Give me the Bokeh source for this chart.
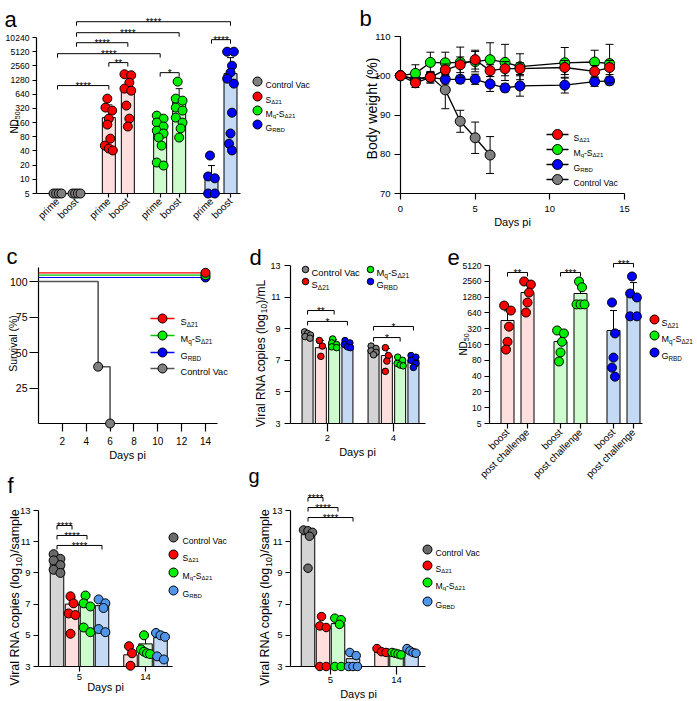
import math
from bokeh.plotting import figure
from bokeh.models import Range1d, FixedTicker, Label, CustomJSTickFormatter
from bokeh.layouts import row, column
from bokeh.core.properties import value
from bokeh.embed import file_html
from bokeh.resources import INLINE

# ============================ DATA ============================
# (a) neutralising titres after prime / boost (ND50)
a_groups = ["Control Vac", "SΔ21", "Mq-SΔ21", "GRBD"]
a_phases = ["prime", "boost"]
a_yticks = [5, 10, 20, 40, 80, 160, 320, 640, 1280, 2560, 5120, 10240]
a_bar = [5, 5, 204, 880, 120, 446, 12, 1750]
a_err = [5, 5, 380, 1500, 190, 840, 19.6, 3830]
a_ctrl_prime = [5, 5, 5, 5]
a_ctrl_boost = [5, 5, 5, 5]
a_s_prime = [516, 333, 288, 194, 145, 73, 52, 45, 41]
a_s_boost = [1700, 1620, 1130, 840, 760, 368, 194, 132]
a_m_prime = [225, 194, 160, 132, 108, 94, 77, 52, 22.7, 19.6]
a_m_boost = [1185, 516, 468, 333, 288, 204, 160, 120, 77]
a_g_prime = [32, 11.5, 10.5, 5, 5]
a_g_boost = [5120, 5120, 2580, 1840, 1370, 1075, 260, 94, 57, 41]
a_sig = [(0, 2, 977, "****"), (2, 3, 3000, "**"), (4, 5, 1836, "*"), (6, 7, 9213, "****"),
         (0, 4, 4645, "****"), (1, 3, 7937, "****"), (1, 5, 12950, "****"), (1, 7, 22150, "****")]

# (b) body weight (%)
b_days = [0, 1, 2, 3, 4, 5, 6, 7, 8, 11, 13, 14]
b_S = [100, 98.2, 99.6, 101.5, 102.8, 104.1, 101.3, 101.8, 101.8, 102.1, 101.1, 102.1]
b_S_sd = [0, 1.2, 1.2, 1.5, 2.0, 2.4, 1.5, 1.8, 1.5, 1.8, 1.5, 1.8]
b_M = [100, 100.6, 103.4, 103.3, 103.4, 103.6, 104.1, 103.4, 102.3, 103.3, 103.5, 103.1]
b_M_sd = [0, 2.2, 2.6, 2.7, 3.9, 2.6, 4.3, 4.6, 3.3, 3.9, 3.0, 4.9]
b_G = [100, 99.1, 99.6, 99.1, 99.1, 99.1, 97.9, 96.9, 97.4, 97.6, 98.5, 98.7]
b_G_sd = [0, 1.5, 1.5, 1.2, 1.0, 1.3, 1.9, 1.0, 2.6, 2.0, 1.2, 1.0]
b_C_days = [0, 1, 2, 3, 4, 5, 6]
b_C = [100, 99.2, 99.8, 96.4, 88.4, 84.2, 79.8]
b_C_sd = [0, 1.0, 1.0, 4.8, 2.8, 4.0, 4.7]

# (c) survival (%)
c_days_ctrl = [0, 5, 6]
c_surv_ctrl = [100, 40, 0]
c_days_vacc = [0, 14]
c_surv_S = [100, 100]
c_surv_M = [100, 100]
c_surv_G = [100, 100]

# (d) viral RNA copies (log10)/mL, days 2 and 4 (order: Control, S, Mq-S, G)
d_days = ["2", "4"]
d_bar_d2 = [8.65, 7.8, 8.05, 7.95]
d_bar_d4 = [7.7, 7.3, 6.95, 7.0]
d_err_d2 = [8.8, 8.25, 8.3, 8.15]
d_err_d4 = [7.9, 7.75, 7.15, 7.3]
d_ctrl_d2 = [8.8, 8.7, 8.6, 8.5, 8.4]
d_s_d2 = [8.25, 7.9, 7.25]
d_m_d2 = [8.35, 8.1, 8.0, 7.85, 7.8]
d_g_d2 = [8.25, 8.1, 8.0, 7.85, 7.8]
d_ctrl_d4 = [7.9, 7.75, 7.6, 7.5, 7.35]
d_s_d4 = [7.8, 7.3, 6.95, 6.3]
d_m_d4 = [7.2, 7.0, 6.8, 6.7, 6.65]
d_g_d4 = [7.3, 7.2, 7.0, 6.8, 6.55]
d_sig = [(0, 0, 2, 10.15, "**"), (0, 0, 3, 9.46, "*"), (1, 0, 3, 9.14, "*"), (1, 0, 2, 8.44, "*")]

# (e) ND50 boost vs post challenge
e_phases = ["boost", "post challenge"]
e_yticks = [5, 10, 20, 40, 80, 160, 320, 640, 1280, 2560, 5120]
e_bar = [459, 1565, 182, 1500, 296, 1370]
e_err = [700, 2200, 280, 2100, 710, 2420]
e_s_boost = [884, 710, 350, 180, 128]
e_s_post = [2540, 2220, 1560, 1010, 650]
e_m_boost = [296, 260, 180, 113, 76]
e_m_post = [2540, 1970, 930, 930, 930]
e_g_boost = [1010, 260, 90, 58, 39]
e_g_post = [3160, 1500, 1260, 550, 550]
e_sig = [(0, 1, 3770, "**"), (2, 3, 3770, "***"), (4, 5, 5600, "***")]

# (f) viral RNA copies (log10)/sample, days 5 / 14 (order: Control, S, Mq-S, G)
vr_days = ["5", "14"]
vr_yticks = [3, 5, 7, 9, 11, 13]
f_bar_d5 = [9.8, 7.0, 7.0, 6.9]
f_bar_d14 = [3.75, 4.45, 4.85]
f_err_d5 = [10.1, 7.4, 7.6, 7.25]
f_err_d14 = [4.3, 5.0, 5.2]
f_ctrl_d5 = [10.2, 9.9, 9.8, 9.5, 9.2, 9.0]
f_s_d5 = [7.5, 7.05, 6.4, 6.3, 5.1]
f_m_d5 = [7.55, 7.05, 6.85, 5.5, 5.2]
f_g_d5 = [7.3, 7.05, 6.75, 5.4, 5.2]
f_s_d14 = [4.3, 3.85, 3.05]
f_m_d14 = [5.0, 4.1, 3.95, 3.85, 3.8]
f_g_d14 = [5.15, 5.0, 4.9, 3.65, 3.45]
f_sig = [(1, 12.04, "****"), (2, 11.4, "****"), (3, 10.76, "****")]

# (g) viral RNA copies (log10)/sample, days 5 / 14
g_bar_d5 = [11.45, 5.5, 5.75, 3.5]
g_bar_d14 = [4.15, 3.9, 4.0]
g_ctrl_d5 = [11.75, 11.7, 11.6, 11.35, 9.3]
g_s_d5 = [6.2, 5.6, 5.5, 3.0, 3.0]
g_m_d5 = [6.1, 6.0, 5.7, 3.0, 3.0]
g_g_d5 = [3.9, 3.7, 3.0, 3.0, 3.0]
g_s_d14 = [4.15, 3.95, 3.9]
g_m_d14 = [3.9, 3.85, 3.8, 3.75]
g_g_d14 = [4.15, 4.0, 3.9, 3.85]
g_sig = [(1, 13.83, "****"), (2, 13.19, "****"), (3, 12.55, "****")]

# ============================ STYLE ============================
FONT = "Liberation Sans"
GRAY, GRAY2 = "#7F7F7F", "#6A6A6A"
RED, GREEN, BLUE, LBLUE = "#FF0000", "#00EE00", "#0000FF", "#4F96EA"
GRAYBAR, PINK, LGREEN, BLUEBAR = "#D4D4D4", "#FFDEDE", "#CFFCCF", "#C4DAF4"

AW = {' ': 278, '(': 333, ')': 333, '%': 889, '/': 278, '-': 333, '*': 389, '.': 278, 'Δ': 668,
      'A': 667, 'B': 667, 'C': 722, 'D': 722, 'G': 778, 'L': 556, 'M': 833, 'N': 722, 'R': 722,
      'S': 667, 'V': 667, 'a': 556, 'b': 556, 'c': 500, 'd': 556, 'e': 556, 'g': 556, 'h': 556,
      'i': 222, 'l': 222, 'm': 833, 'n': 556, 'o': 556, 'p': 556, 'q': 556, 'r': 333, 's': 500,
      't': 278, 'u': 556, 'v': 500, 'w': 722, 'y': 500}


def tw(s, size):
    return sum(AW.get(ch, 556) for ch in s) * size / 1000.0


def _inv(p, cal, log):
    p1, v1, p2, v2 = cal
    if log:
        v1, v2 = math.log(v1), math.log(v2)
    t = v1 + (p - p1) * (v2 - v1) / (p2 - p1)
    return math.exp(t) if log else t


def _fwd(v, cal, log):
    p1, v1, p2, v2 = cal
    if log:
        v, v1, v2 = math.log(v), math.log(v1), math.log(v2)
    return p1 + (v - v1) * (p2 - p1) / (v2 - v1)


class Panel:
    """A figure whose frame fills its whole box; page pixel <-> data via two calibration points."""

    def __init__(self, left, top, w, h, xcal, ycal, ylog=False):
        self.xcal, self.ycal, self.ylog = xcal, ycal, ylog
        self.p = figure(width=w, height=h,
                        x_range=Range1d(self.dx(left), self.dx(left + w)),
                        y_range=Range1d(self.dy(top + h), self.dy(top)),
                        y_axis_type="log" if ylog else "linear",
                        min_border=0, min_border_left=0, min_border_right=0,
                        min_border_top=0, min_border_bottom=0,
                        toolbar_location=None, output_backend="svg")
        self.p.outline_line_color = None
        self.p.grid.visible = False
        self.p.background_fill_color = "white"
        self.p.border_fill_color = "white"
        p1, v1, p2, v2 = xcal
        self.ppu = (p2 - p1) / (v2 - v1)

    def dx(self, px):
        return _inv(px, self.xcal, False)

    def dy(self, py):
        return _inv(py, self.ycal, self.ylog)

    def py(self, y):
        return _fwd(y, self.ycal, self.ylog)


TICKJS = """
let best = 0, bd = Infinity;
for (let i = 0; i < pos.length; i++) { const d = Math.abs(pos[i] - tick); if (d < bd) { bd = d; best = i; } }
return labs[best];
"""


def set_axis(ax, ticks, labels, font, tick_out, standoff, bounds, fixed, orient=None):
    ax.ticker = FixedTicker(ticks=list(ticks), minor_ticks=[])
    ax.formatter = CustomJSTickFormatter(args=dict(pos=list(ticks), labs=list(labels)), code=TICKJS)
    ax.major_tick_in = 0
    ax.major_tick_out = tick_out
    ax.minor_tick_line_color = None
    ax.axis_line_color = "black"
    ax.axis_line_width = 1.2
    ax.major_tick_line_color = "black"
    ax.major_tick_line_width = 1.2
    ax.major_label_text_font = FONT
    ax.major_label_text_font_size = f"{font}px"
    ax.major_label_text_color = "black"
    ax.major_label_standoff = standoff
    ax.level = "underlay"
    ax.bounds = bounds
    ax.fixed_location = fixed
    if orient is not None:
        ax.major_label_orientation = orient


def label(P, px, py, text, size, align="left", baseline="alphabetic", angle=0.0):
    P.p.add_layout(Label(x=P.dx(px), y=P.dy(py), text=text, text_font=FONT,
                         text_font_size=f"{size}px", text_align=align, text_baseline=baseline,
                         angle=angle, text_color="black"))


def rich(P, px, py, parts, size, anchor="left", angle=0.0):
    sub = 0.7 * size
    shift = 0.3 * size
    base = 0.35 * size
    widths = [tw(t, sub if s else size) for t, s in parts]
    pos = -sum(widths) / 2 if anchor == "center" else 0.0
    for (t, s), w in zip(parts, widths):
        down = base + (shift if s else 0.0)
        if angle == 0:
            x, y = px + pos, py + down
        else:
            x, y = px + down, py - pos
        P.p.add_layout(Label(x=P.dx(x), y=P.dy(y), text=t, text_font=FONT,
                             text_font_size=f"{(sub if s else size):.1f}px", text_align="left",
                             text_baseline="alphabetic", angle=angle, text_color="black"))
        pos += w


NM_S = [("S", False), ("Δ21", True)]
NM_M = [("M", False), ("q", True), ("-S", False), ("Δ21", True)]
NM_G = [("G", False), ("RBD", True)]
NM_C = [("Control Vac", False)]
T_ND = [("ND", False), ("50", True)]
T_ML = [("Viral RNA copies (log", False), ("10", True), (")/mL", False)]
T_SA = [("Viral RNA copies (log", False), ("10", True), (")/sample", False)]
PI2 = math.pi / 2


def legend(P, items, xm, xt, ys, size, msize, line=None, lw=1.2):
    for (col, lcol, parts), y in zip(items, ys):
        if line is not None:
            P.p.segment(x0=[P.dx(line[0])], y0=[P.dy(y)], x1=[P.dx(line[1])], y1=[P.dy(y)],
                        line_color=lcol, line_width=lw)
        P.p.scatter(x=[P.dx(xm)], y=[P.dy(y)], size=msize, fill_color=col,
                    line_color="black", line_width=1)
        rich(P, xt, y, parts, size)


def bracket(P, x0, x1, y, txt, fs=10, leg=4):
    yl = P.dy(P.py(y) + leg)
    P.p.line(x=[x0, x0, x1, x1], y=[yl, y, y, yl], line_color="black", line_width=1)
    P.p.text(x=[(x0 + x1) / 2], y=[y], text=[txt], text_font=value(FONT),
             text_font_size=value(f"{fs}px"), text_align="center",
             text_baseline="alphabetic", y_offset=1, text_color="black")


def dots(P, xc, vals, color, msize, spread):
    pys = [P.py(v) for v in vals]
    order = sorted(range(len(vals)), key=lambda i: pys[i])
    clusters = []
    for i in order:
        if clusters and abs(pys[i] - pys[clusters[-1][0]]) < 0.6 * msize:
            clusters[-1].append(i)
        else:
            clusters.append([i])
    offs = [0.0] * len(vals)
    for ci, cl in enumerate(clusters):
        n = len(cl)
        if n == 1:
            offs[cl[0]] = (-1.5, 1.5, 0.0)[ci % 3]
        else:
            step = min(0.75 * msize, 2 * spread / (n - 1))
            for k, i in enumerate(cl):
                offs[i] = (k - (n - 1) / 2) * step
    xs = [xc + o / P.ppu for o in offs]
    P.p.scatter(x=xs, y=vals, size=msize, fill_color=color, line_color="black", line_width=1)


def errs(P, xs, lows, highs, capw):
    P.p.segment(x0=xs, y0=lows, x1=xs, y1=highs, line_color="black", line_width=1)
    P.p.segment(x0=[x - capw for x in xs], y0=highs, x1=[x + capw for x in xs], y1=highs,
                line_color="black", line_width=1)


# ============================ PANEL a ============================
A = Panel(0, 0, 350, 235, (57, 0, 230, 9.1), (193, 5, 37, 10240), ylog=True)
a_x = [g * 2.7 + k for g in range(4) for k in range(2)]
a_vals = [a_ctrl_prime, a_ctrl_boost, a_s_prime, a_s_boost, a_m_prime, a_m_boost, a_g_prime, a_g_boost]
a_dotc = [GRAY, RED, GREEN, BLUE]
a_barc = [GRAYBAR, PINK, LGREEN, BLUEBAR]
ib = [i for i in range(8) if a_bar[i] > 5]
A.p.vbar(x=[a_x[i] for i in ib], top=[a_bar[i] for i in ib], bottom=5, width=13 / A.ppu,
         fill_color=[a_barc[i // 2] for i in ib], line_color="black", line_width=1)
errs(A, [a_x[i] for i in ib], [a_bar[i] for i in ib], [a_err[i] for i in ib], 3.5 / A.ppu)
for i in range(8):
    dots(A, a_x[i], a_vals[i], a_dotc[i // 2], 9, 4)
set_axis(A.p.xaxis[0], a_x, a_phases * 4, 10, 4, 2, (A.dx(36), A.dx(240)), 5, orient=math.pi / 4)
set_axis(A.p.yaxis[0], a_yticks, [str(t) for t in a_yticks], 8.6, 4, 3, (5, 10240), A.dx(36))
for i, j, y, t in a_sig:
    bracket(A, a_x[i], a_x[j], y, t)
legend(A, [(GRAY, None, NM_C), (RED, None, NM_S), (GREEN, None, NM_M), (BLUE, None, NM_G)],
       257, 265, [81, 96, 110, 124], 8.6, 9)
rich(A, 10, 122, T_ND, 10, anchor="center", angle=PI2)
label(A, 4, 19, "a", 22)

# ============================ PANEL b ============================
B = Panel(350, 0, 345, 235, (400, 0, 624, 15), (193, 70, 36, 110))
capb = 4 / B.ppu
for d, v, s, c in [(b_C_days, b_C, b_C_sd, GRAY), (b_days, b_G, b_G_sd, BLUE),
                   (b_days, b_M, b_M_sd, GREEN), (b_days, b_S, b_S_sd, RED)]:
    lo = [a - e for a, e in zip(v, s)]
    hi = [a + e for a, e in zip(v, s)]
    errs(B, d, lo, hi, capb)
    B.p.segment(x0=[x - capb for x in d], y0=lo, x1=[x + capb for x in d], y1=lo,
                line_color="black", line_width=1)
    B.p.line(d, v, line_color="black", line_width=1.3)
    B.p.scatter(d, v, size=10, fill_color=c, line_color="black", line_width=1)
set_axis(B.p.xaxis[0], [0, 5, 10, 15], ["0", "5", "10", "15"], 9.5, 6, 6, (0, 15), 70)
set_axis(B.p.yaxis[0], [70, 80, 90, 100, 110], ["70", "80", "90", "100", "110"], 9.5, 6, 4,
         (70, 110), 0)
legend(B, [(RED, "black", NM_S), (GREEN, "black", NM_M), (BLUE, "black", NM_G), (GRAY, "black", NM_C)],
       557, 573, [134, 149, 164, 179], 8.6, 10, line=(546, 568), lw=1.3)
label(B, 512, 221, "Days pi", 11, align="center", baseline="middle")
rich(B, 367, 108, [("Body weight (%)", False)], 14, anchor="center", angle=PI2)
label(B, 359, 18, "b", 22)

# ============================ PANEL c ============================
C = Panel(0, 235, 236, 228, (38, 0, 205, 14), (423, 0, 281, 100))
c_off = {"S": C.dy(C.py(100) - 8.7) - 100, "M": C.dy(C.py(100) - 6.3) - 100,
         "G": C.dy(C.py(100) - 4.0) - 100}
for key, surv, col in [("G", c_surv_G, BLUE), ("M", c_surv_M, "#00C800"), ("S", c_surv_S, RED)]:
    C.p.line(c_days_vacc, [s + c_off[key] for s in surv], line_color=col, line_width=1.2)
C.p.step(c_days_ctrl, c_surv_ctrl, mode="after", line_color="#555555", line_width=1.6)
for key, surv, col in [("G", c_surv_G, BLUE), ("M", c_surv_M, GREEN), ("S", c_surv_S, RED)]:
    C.p.scatter(c_days_vacc[-1:], [surv[-1] + c_off[key]], size=9, fill_color=col,
                line_color="black", line_width=1)
C.p.scatter(c_days_ctrl[1:], c_surv_ctrl[1:], size=9, fill_color=GRAY, line_color="black", line_width=1)
set_axis(C.p.xaxis[0], [2, 4, 6, 8, 10, 12, 14], ["2", "4", "6", "8", "10", "12", "14"], 10, 8, 5,
         (0, 15), 0)
set_axis(C.p.yaxis[0], [25, 50, 75, 100], ["25", "50", "75", "100"], 10.5, 9, 2, (0, 110), 0)
legend(C, [(RED, RED, NM_S), (GREEN, "#00C800", NM_M), (BLUE, BLUE, NM_G), (GRAY, "#555555", NM_C)],
       162, 180, [318, 335, 352, 368], 9.2, 9, line=(150, 174), lw=1.5)
label(C, 127, 454, "Days pi", 11, align="center", baseline="middle")
rich(C, 9, 343, [("Survival (%)", False)], 10.5, anchor="center", angle=PI2)
label(C, 6, 256, "c", 22)

# ============================ PANEL d ============================
D = Panel(236, 235, 209, 253, (327, 0, 393, 1), (423, 3, 265, 13))
pd_ = 13.3 / D.ppu
d_groups = [(d_bar_d2, d_err_d2, [d_ctrl_d2, d_s_d2, d_m_d2, d_g_d2]),
            (d_bar_d4, d_err_d4, [d_ctrl_d4, d_s_d4, d_m_d4, d_g_d4])]
d_dotc = [GRAY, RED, GREEN, BLUE]
d_barc = [GRAYBAR, PINK, LGREEN, BLUEBAR]
for gi, (bars, er, dl) in enumerate(d_groups):
    xs = [gi + (k - 1.5) * pd_ for k in range(4)]
    D.p.vbar(x=xs, top=bars, bottom=3, width=11 / D.ppu, fill_color=d_barc, line_color="black", line_width=1)
    errs(D, xs, bars, er, 3 / D.ppu)
    for k in range(4):
        dots(D, xs[k], dl[k], d_dotc[k], 6.5, 3)
for gi, i, j, y, t in d_sig:
    bracket(D, gi + (i - 1.5) * pd_, gi + (j - 1.5) * pd_, y, t)
set_axis(D.p.xaxis[0], [0, 1], d_days, 9.5, 8, 3, (D.dx(290), D.dx(425)), 3)
set_axis(D.p.yaxis[0], vr_yticks, [str(t) for t in vr_yticks], 9, 6, 4, (3, 13), D.dx(290))
legend(D, [(GRAY, None, NM_C), (RED, None, NM_S)], 305, 311, [269, 281], 9.4, 6.5)
legend(D, [(GREEN, None, NM_M), (BLUE, None, NM_G)], 370, 376, [269, 281], 9.4, 6.5)
label(D, 357, 451, "Days pi", 11, align="center", baseline="middle")
rich(D, 256, 353, T_ML, 12, anchor="center", angle=PI2)
label(D, 249, 257, "d", 22)
label(D, 248, 475, "g", 20)

# ============================ PANEL e ============================
E = Panel(445, 235, 250, 253, (507, 0, 633, 6.3), (423, 5, 265, 5120), ylog=True)
e_x = [g * 2.65 + k for g in range(3) for k in range(2)]
e_vals = [e_s_boost, e_s_post, e_m_boost, e_m_post, e_g_boost, e_g_post]
e_dotc = [RED, GREEN, BLUE]
e_barc = [PINK, LGREEN, BLUEBAR]
E.p.vbar(x=e_x, top=e_bar, bottom=5, width=13 / E.ppu, fill_color=[e_barc[i // 2] for i in range(6)],
         line_color="black", line_width=1)
errs(E, e_x, e_bar, e_err, 3.5 / E.ppu)
for i in range(6):
    dots(E, e_x[i], e_vals[i], e_dotc[i // 2], 9, 4)
for i, j, y, t in e_sig:
    bracket(E, e_x[i], e_x[j], y, t)
set_axis(E.p.xaxis[0], e_x, e_phases * 3, 10, 5, 2, (E.dx(489), E.dx(642)), 5, orient=math.pi / 4)
set_axis(E.p.yaxis[0], e_yticks, [str(t) for t in e_yticks], 8.6, 5, 3, (5, 5120), E.dx(489))
legend(E, [(RED, None, NM_S), (GREEN, None, NM_M), (BLUE, None, NM_G)], 654, 661, [319, 335, 352], 9, 9)
rich(E, 459, 344, T_ND, 10, anchor="center", angle=PI2)
label(E, 447, 257, "e", 22)


# ============================ PANELS f, g ============================
def viral(P, bars5, err5, dots5, bars14, err14, dots14, sig, msize, yaxis_px):
    pitch = 15 / P.ppu
    x5 = [(k - 1.5) * pitch for k in range(4)]
    x14 = [1 + (k - 1) * pitch for k in range(3)]
    P.p.vbar(x=x5, top=bars5, bottom=3, width=13.5 / P.ppu, fill_color=[GRAYBAR, PINK, LGREEN, BLUEBAR],
             line_color="black", line_width=1)
    P.p.vbar(x=x14, top=bars14, bottom=3, width=13.5 / P.ppu, fill_color=[PINK, LGREEN, BLUEBAR],
             line_color="black", line_width=1)
    if err5 is not None:
        errs(P, x5, bars5, err5, 3.5 / P.ppu)
        errs(P, x14, bars14, err14, 3.5 / P.ppu)
    cols = [GRAY2, RED, GREEN, LBLUE]
    for k in range(4):
        dots(P, x5[k], dots5[k], cols[k], msize, 4.5)
    for k in range(3):
        dots(P, x14[k], dots14[k], cols[k + 1], msize, 4.5)
    for j, y, t in sig:
        bracket(P, x5[0], x5[j], y, t)
    set_axis(P.p.yaxis[0], vr_yticks, [str(t) for t in vr_yticks], 9.5, 5, 3, (3, 13), P.dx(yaxis_px))


F = Panel(0, 463, 236, 236, (79, 0, 145, 1), (666, 3, 510, 13))
viral(F, f_bar_d5, f_err_d5, [f_ctrl_d5, f_s_d5, f_m_d5, f_g_d5], f_bar_d14, f_err_d14,
      [f_s_d14, f_m_d14, f_g_d14], f_sig, 9, 38)
set_axis(F.p.xaxis[0], [0, 1], vr_days, 9.5, 5, 2, (F.dx(38), F.dx(172)), 3)
legend(F, [(GRAY2, None, NM_C), (RED, None, NM_S), (GREEN, None, NM_M), (LBLUE, None, NM_G)],
       173, 182, [537, 554, 572, 590], 8.6, 9)
label(F, 105, 686, "Days pi", 11, align="center", baseline="middle")
rich(F, 10, 597, T_SA, 12.5, anchor="center", angle=PI2)
label(F, 7, 485, "f", 22)

G = Panel(236, 488, 459, 211, (330, 0, 396, 1), (666, 3, 510, 13))
viral(G, g_bar_d5, None, [g_ctrl_d5, g_s_d5, g_m_d5, g_g_d5], g_bar_d14, None,
      [g_s_d14, g_m_d14, g_g_d14], g_sig, 8.5, 290)
set_axis(G.p.xaxis[0], [0, 1], vr_days, 9.5, 8, 2, (G.dx(290), G.dx(425)), 3)
legend(G, [(GRAY2, None, NM_C), (RED, None, NM_S), (GREEN, None, NM_M), (LBLUE, None, NM_G)],
       427, 435, [549, 565, 582, 601], 8.6, 9)
label(G, 358, 693, "Days pi", 11, align="center", baseline="middle")
rich(G, 260, 597, T_SA, 12.5, anchor="center", angle=PI2)

layout = column(row(A.p, B.p),
                row(column(C.p, F.p), column(row(D.p, E.p), G.p)))

open("out.html", "w").write(file_html(layout, INLINE))
